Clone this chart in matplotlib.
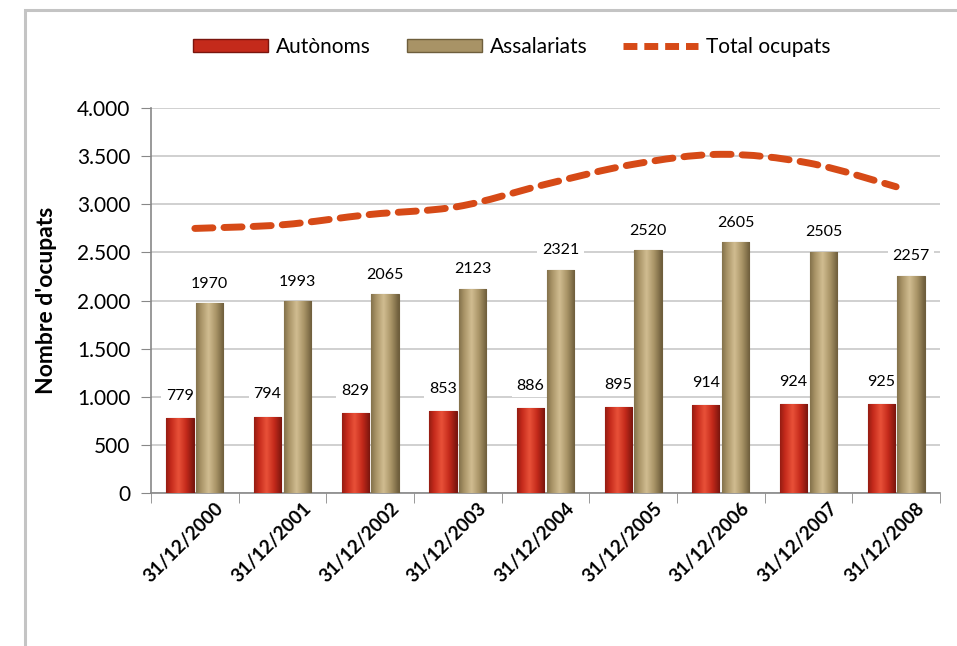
import numpy as np
import matplotlib.pyplot as plt
from matplotlib.patches import Rectangle, PathPatch, Patch
from matplotlib.path import Path
from matplotlib.lines import Line2D
from matplotlib.colors import LinearSegmentedColormap
from matplotlib.ticker import FuncFormatter, FixedLocator
from matplotlib.transforms import ScaledTranslation

plt.rcParams['font.family'] = ['Lato', 'DejaVu Sans']

dates = ['31/12/2000', '31/12/2001', '31/12/2002', '31/12/2003', '31/12/2004',
         '31/12/2005', '31/12/2006', '31/12/2007', '31/12/2008']
autonoms = [779, 794, 829, 853, 886, 895, 914, 924, 925]
assalariats = [1970, 1993, 2065, 2123, 2321, 2520, 2605, 2505, 2257]
total = [a + b for a, b in zip(autonoms, assalariats)]

orange = '#D64A17'

fig = plt.figure(figsize=(9.57, 6.46), dpi=100)
ax = fig.add_axes([0.1578, 0.2368, 0.8244, 0.596])

x = np.arange(len(dates))
w = 0.31
gap = 0.03


def shaded_bars(xs, vals, base, light, dark):
    bars = ax.bar(xs, vals, width=w, color=base, edgecolor=dark, linewidth=0.8, zorder=3)
    grad = np.linspace(0, 1, 64)
    grad = np.clip(1 - np.abs(grad - 0.45) * 1.8, 0, 1)
    cmap = LinearSegmentedColormap.from_list('g', [dark, base, light])
    for b in bars:
        x0, y0 = b.get_x(), b.get_y()
        im = ax.imshow(grad[None, :], cmap=cmap, aspect='auto',
                       extent=[x0, x0 + b.get_width(), y0, y0 + b.get_height()],
                       zorder=3.5, interpolation='bicubic')
        im.set_clip_path(b)
    return bars


x_red = x - w / 2 - gap / 2
x_tan = x + w / 2 + gap / 2
shaded_bars(x_red, autonoms, '#C42A1B', '#E85038', '#7A150E')
shaded_bars(x_tan, assalariats, '#A89366', '#D0BC90', '#6E5E3C')

for xi, v in zip(x_red, autonoms):
    ax.annotate(str(v), (xi, v), xytext=(0, 16), textcoords='offset points',
                ha='center', va='center', fontsize=11.5, zorder=2,
                bbox=dict(boxstyle='square,pad=0.3', fc='white', ec='none'))
for xi, v in zip(x_tan, assalariats):
    ax.annotate(str(v), (xi, v), xytext=(0, 14), textcoords='offset points',
                ha='center', va='center', fontsize=11.5, zorder=2,
                bbox=dict(boxstyle='square,pad=0.3', fc='white', ec='none'))

# smooth total line (Catmull-Rom as cubic Bezier segments)
px = x.astype(float)
py = np.array(total, dtype=float)
verts = [(px[0], py[0])]
codes = [Path.MOVETO]
n = len(px)
for i in range(n - 1):
    p0 = (px[max(i - 1, 0)], py[max(i - 1, 0)])
    p1 = (px[i], py[i])
    p2 = (px[i + 1], py[i + 1])
    p3 = (px[min(i + 2, n - 1)], py[min(i + 2, n - 1)])
    c1 = (p1[0] + (p2[0] - p0[0]) / 6, p1[1] + (p2[1] - p0[1]) / 6)
    c2 = (p2[0] - (p3[0] - p1[0]) / 6, p2[1] - (p3[1] - p1[1]) / 6)
    verts += [c1, c2, p2]
    codes += [Path.CURVE4] * 3
line = PathPatch(Path(verts, codes), fill=False, edgecolor=orange, linewidth=5,
                 linestyle=(0, (2.6, 1.6)), capstyle='round', zorder=4)
ax.add_patch(line)

ax.set_xlim(-0.5, len(dates) - 0.5)
ax.set_ylim(0, 4000)
ax.set_yticks(np.arange(0, 4001, 500))
ax.yaxis.set_major_formatter(FuncFormatter(lambda v, p: f'{int(v):,}'.replace(',', '.')))
ax.tick_params(axis='y', labelsize=15, length=7, color='#888888', direction='out', pad=8)
ax.grid(axis='y', color='#C8C8C8', linewidth=1.2, zorder=0)
ax.set_axisbelow(True)

ax.set_xticks(x)
ax.set_xticklabels(dates, rotation=45, ha='right', rotation_mode='anchor',
                   fontsize=13.5, fontweight='bold')
ax.tick_params(axis='x', length=0, pad=5)
shift = ScaledTranslation(20 / 100, 0, fig.dpi_scale_trans)
for lbl in ax.get_xticklabels():
    lbl.set_transform(lbl.get_transform() + shift)
ax.xaxis.set_minor_locator(FixedLocator(np.arange(-0.5, len(dates), 1.0)))
ax.tick_params(axis='x', which='minor', length=7, color='#888888')

for s in ['top', 'right']:
    ax.spines[s].set_visible(False)
for s in ['left', 'bottom']:
    ax.spines[s].set_color('#888888')
    ax.spines[s].set_linewidth(1.2)

ax.set_ylabel("Nombre d'ocupats", fontsize=16.5, fontweight='bold', labelpad=14)

handles = [Patch(facecolor='#C42A1B', edgecolor='#7A150E'),
           Patch(facecolor='#A89366', edgecolor='#6E5E3C'),
           Line2D([0], [0], color=orange, linewidth=5, linestyle=(0, (2, 1)))]
fig.legend(handles, ['Autònoms', 'Assalariats', 'Total ocupats'], loc='center',
           bbox_to_anchor=(0.535, 0.927), ncol=3, frameon=False, fontsize=15,
           handlelength=3.6, handleheight=0.6, columnspacing=1.7, handletextpad=0.4)

fig.add_artist(Rectangle((25 / 957, -0.1), 1.2, 1 - 10 / 646 + 0.1,
                         transform=fig.transFigure, fill=False,
                         edgecolor='#C4C4C4', linewidth=2.2))

fig.savefig('out.png', dpi=100)
